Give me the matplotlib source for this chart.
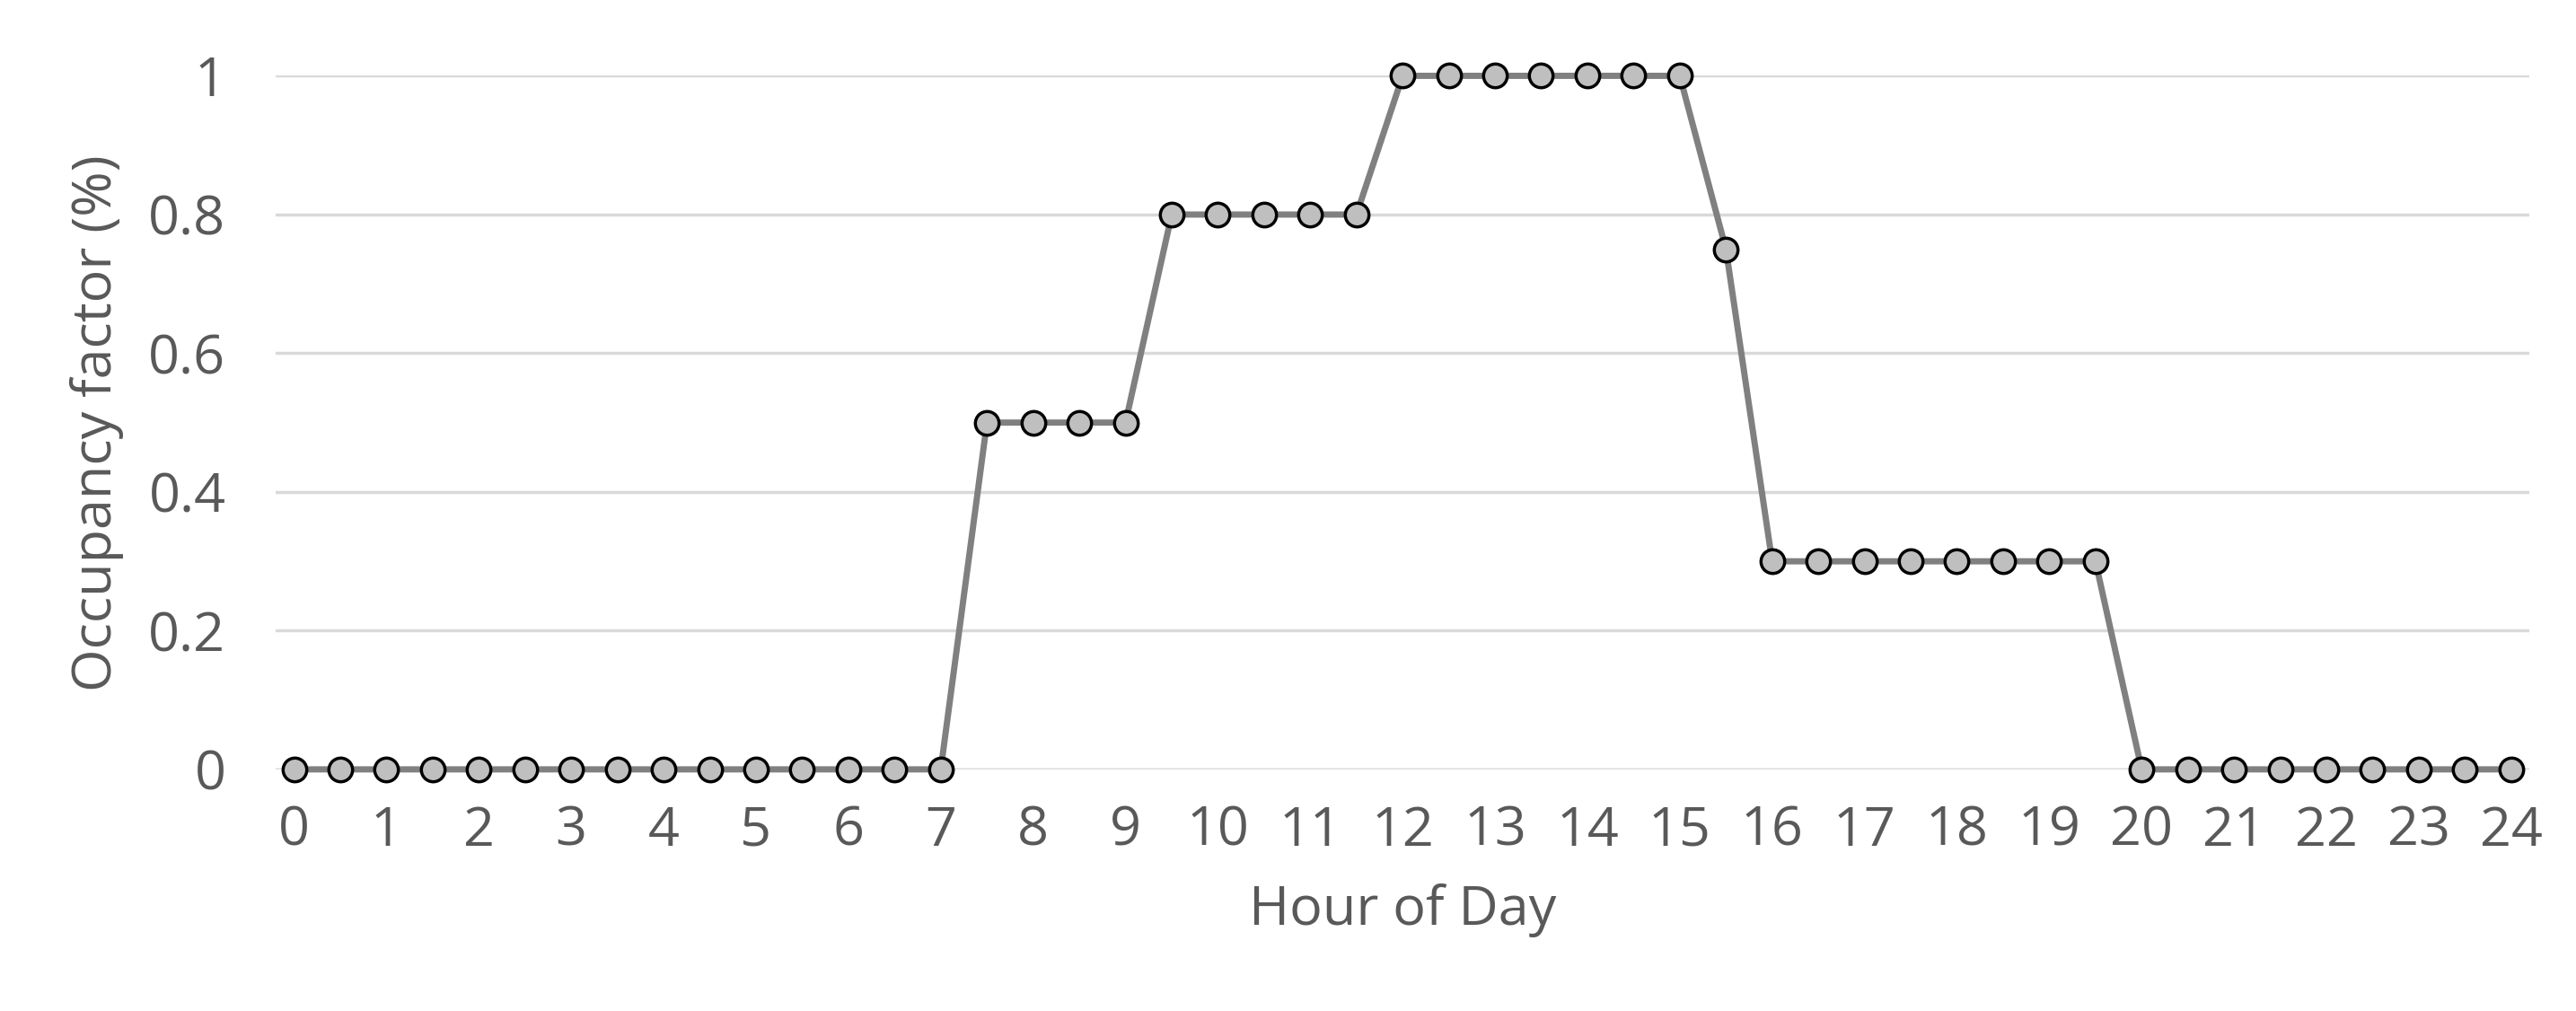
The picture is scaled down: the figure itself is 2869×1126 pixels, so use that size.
import matplotlib.pyplot as plt

plt.rcParams["font.family"] = ["Open Sans", "DejaVu Sans"]

hours = [i * 0.5 for i in range(49)]
occupancy = (
    [0] * 15
    + [0.5] * 4
    + [0.8] * 5
    + [1] * 7
    + [0.75]
    + [0.3] * 8
    + [0] * 9
)
x_ticks = list(range(25))
y_ticks = [0, 0.2, 0.4, 0.6, 0.8, 1]
y_labels = ["0", "0.2", "0.4", "0.6", "0.8", "1"]

text_color = "#595959"

fig = plt.figure(figsize=(28.69, 11.26), dpi=100)
ax = fig.add_axes([0.107, 0.239, 0.875, 0.686])

ax.plot(hours, occupancy, "-o", color="#808080", linewidth=5,
        markersize=19, markerfacecolor="#bfbfbf", markeredgecolor="black",
        markeredgewidth=2.5, zorder=3, clip_on=False)

ax.set_xlim(-0.2, 24.2)
ax.set_ylim(0, 1)
ax.set_xticks(x_ticks)
ax.set_yticks(y_ticks)
ax.set_yticklabels(y_labels)
ax.tick_params(axis="both", length=0, labelsize=44, colors=text_color)
ax.tick_params(axis="x", pad=28)
ax.tick_params(axis="y", pad=40)
ax.grid(axis="y", color="#d9d9d9", linewidth=2.5)
ax.set_axisbelow(True)
for s in ax.spines.values():
    s.set_visible(False)
ax.axhline(0, color="#d9d9d9", linewidth=2.5, zorder=1)

ax.set_xlabel("Hour of Day", fontsize=44, color=text_color, labelpad=20)
ax.set_ylabel("Occupancy factor (%)", fontsize=44, color=text_color, labelpad=20)

fig.savefig("out.png", dpi=100)
